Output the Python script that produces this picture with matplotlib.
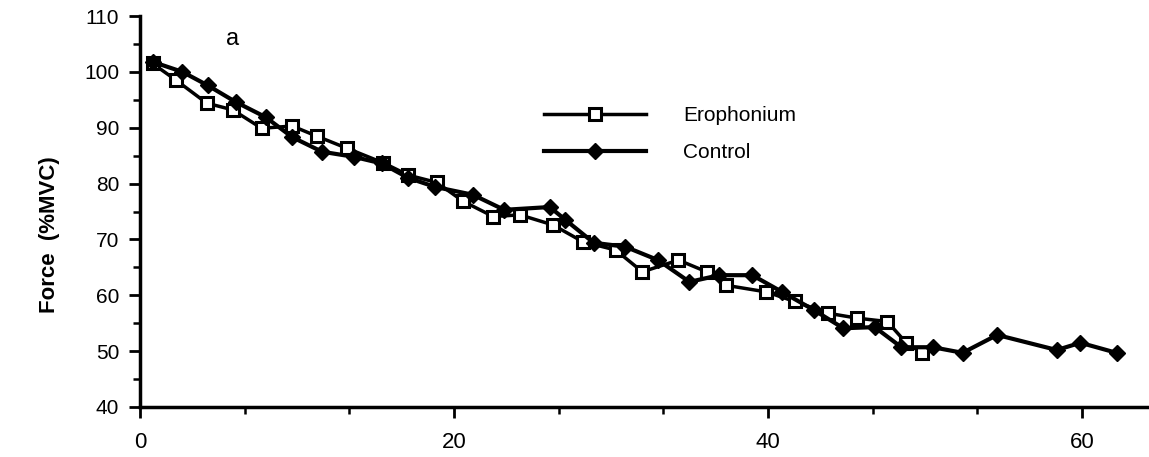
import matplotlib
matplotlib.use("Agg")
import matplotlib.pyplot as plt
from matplotlib.ticker import MultipleLocator

plt.rcParams['font.family'] = ['Liberation Sans', 'DejaVu Sans']

# Erophonium (open squares)
ero_t = [0.8, 2.3, 4.25, 5.9, 7.75, 9.7, 11.25, 13.2, 15.5, 17.1, 18.9, 20.6, 22.5, 24.2,
         26.3, 28.2, 30.3, 32.0, 34.3, 36.1, 37.3, 39.9, 41.7, 43.8, 45.7, 47.6, 48.8, 49.8]
ero_v = [101.5, 98.5, 94.4, 93.2, 89.9, 90.3, 88.5, 86.3, 83.7, 81.5, 80.2, 76.8, 74.1, 74.4,
         72.6, 69.6, 68.1, 64.2, 66.3, 64.2, 61.8, 60.6, 58.9, 56.8, 55.9, 55.3, 51.5, 49.7]

# Control (filled diamonds)
ctl_t = [0.8, 2.7, 4.3, 6.1, 8.0, 9.7, 11.6, 13.6, 15.4, 17.1, 18.8, 21.2, 23.2, 26.1, 27.1,
         28.9, 30.9, 33.0, 35.0, 36.9, 39.0, 40.9, 42.9, 44.8, 46.8, 48.5, 50.5, 52.4, 54.6,
         58.4, 59.9, 62.2]
ctl_v = [101.8, 100.0, 97.6, 94.6, 91.9, 88.3, 85.7, 84.8, 83.6, 81.0, 79.4, 78.0, 75.3, 75.8,
         73.5, 69.4, 68.7, 66.3, 62.4, 63.6, 63.6, 60.6, 57.4, 54.1, 54.3, 50.7, 50.7, 49.7,
         52.9, 50.2, 51.5, 49.7]

x_ticks = [0, 20, 40, 60]
x_tick_labels = ['0', '20', '40', '60']
y_ticks = [40, 50, 60, 70, 80, 90, 100, 110]
y_tick_labels = ['40', '50', '60', '70', '80', '90', '100', '110']

fig = plt.figure(figsize=(11.49, 4.57), dpi=100)
ax = fig.add_axes([140/1149, 50/457, 1 - 140/1149, 391/457])

ax.plot(ero_t, ero_v, color='black', lw=2.5, marker='s', ms=8.5, mfc='white',
        mec='black', mew=2.2, label='Erophonium', zorder=3)
ax.plot(ctl_t, ctl_v, color='black', lw=3.0, marker='D', ms=8, mfc='black',
        mec='black', label='Control', zorder=4)

for s in ['top', 'right']:
    ax.spines[s].set_visible(False)
for s in ['left', 'bottom']:
    ax.spines[s].set_linewidth(2.5)

ax.set_xlim(0, 64.27)
ax.set_ylim(40, 110)
ax.set_xticks(x_ticks)
ax.set_xticklabels(x_tick_labels)
ax.set_yticks(y_ticks)
ax.set_yticklabels(y_tick_labels)
ax.xaxis.set_minor_locator(MultipleLocator(20/3))
ax.yaxis.set_minor_locator(MultipleLocator(5))
ax.tick_params(axis='both', which='major', length=8, width=2, direction='out')
ax.tick_params(axis='both', which='minor', length=5, width=1.8, direction='out')
ax.tick_params(axis='x', which='major', pad=10, labelsize=16)
ax.tick_params(axis='y', which='major', pad=7, labelsize=15)

ax.set_ylabel('Force  (%MVC)', fontsize=16, fontweight='bold')
ax.yaxis.set_label_coords(-0.079, 0.44)

ax.text(0.092, 0.94, 'a', transform=ax.transAxes, fontsize=17, ha='center', va='center')

leg = ax.legend(loc='center left', bbox_to_anchor=(0.40, 0.698), frameon=False,
                fontsize=15, handlelength=4.9, handletextpad=1.8, labelspacing=0.85,
                borderpad=0, borderaxespad=0)

fig.savefig('out.png', dpi=100, facecolor='white')
